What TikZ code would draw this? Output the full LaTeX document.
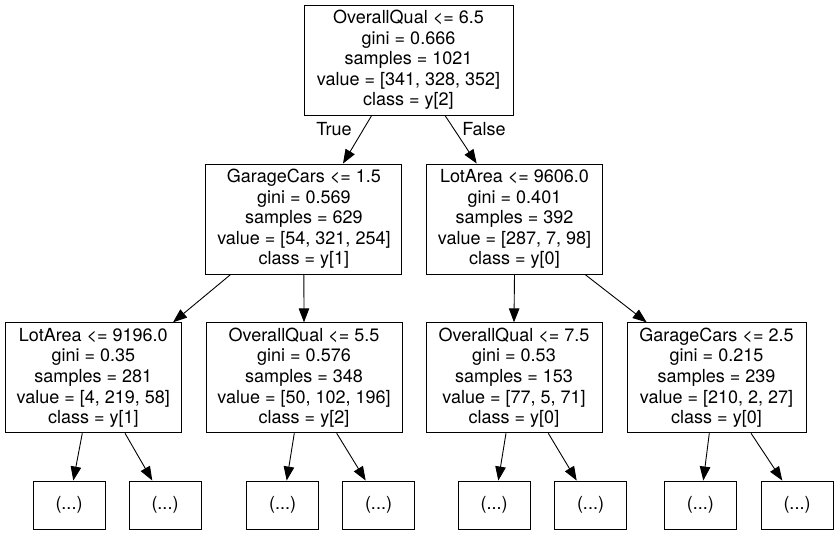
\documentclass[tikz,border=0pt]{standalone}
\usepackage{fontspec}
\setmainfont{TeX Gyre Heros}
\usetikzlibrary{arrows.meta}
\begin{document}
\begin{tikzpicture}[x=1pt,y=-1pt,
  box/.style={draw,line width=0.9pt,rectangle,inner sep=0pt,align=center,
    font=\fontsize{18}{20.6}\selectfont,minimum height=110pt},
  leaf/.style={box,minimum width=72pt,minimum height=48pt},
  edge/.style={line width=0.9pt,-{Triangle[length=14pt,width=10.5pt]}},
  lbl/.style={font=\fontsize{18}{20.6}\selectfont,inner sep=0pt}]
\useasboundingbox (0,0) rectangle (839,535);
% internal nodes
\node[box,minimum width=209pt] (root) at (408.5,60)
  {OverallQual <= 6.5\\gini = 0.666\\samples = 1021\\value = [341, 328, 352]\\class = y[2]};
\node[box,minimum width=196pt] (L) at (303.9,219)
  {GarageCars <= 1.5\\gini = 0.569\\samples = 629\\value = [54, 321, 254]\\class = y[1]};
\node[box,minimum width=175.6pt] (R) at (514.5,219)
  {LotArea <= 9606.0\\gini = 0.401\\samples = 392\\value = [287, 7, 98]\\class = y[0]};
\node[box,minimum width=176.7pt] (LL) at (93.3,377.8)
  {LotArea <= 9196.0\\gini = 0.35\\samples = 281\\value = [4, 219, 58]\\class = y[1]};
\node[box,minimum width=196pt] (LR) at (304,377.8)
  {OverallQual <= 5.5\\gini = 0.576\\samples = 348\\value = [50, 102, 196]\\class = y[2]};
\node[box,minimum width=176pt] (RL) at (514,377.8)
  {OverallQual <= 7.5\\gini = 0.53\\samples = 153\\value = [77, 5, 71]\\class = y[0]};
\node[box,minimum width=179pt] (RR) at (716.5,377.8)
  {GarageCars <= 2.5\\gini = 0.215\\samples = 239\\value = [210, 2, 27]\\class = y[0]};
% leaves
\node[leaf] (a) at (69,505) {(...)};
\node[leaf] (b) at (165,505) {(...)};
\node[leaf] (c) at (282.7,505) {(...)};
\node[leaf] (d) at (378.5,505) {(...)};
\node[leaf] (e) at (494.2,505) {(...)};
\node[leaf] (f) at (590.5,505) {(...)};
\node[leaf] (g) at (700.3,505) {(...)};
\node[leaf] (h) at (797,505) {(...)};
% edge labels
\node[lbl] (tlbl) at (334,129) {True};
\node[lbl] (flbl) at (484,129) {False};
% edges
\draw[edge] ([xshift=-36.8pt]root.south) -- ([xshift=39.1pt]L.north);
\draw[edge] ([xshift=36.5pt]root.south) -- ([xshift=-37.8pt]R.north);
\draw[edge] ([xshift=-73.2pt]L.south) -- ([xshift=79.7pt]LL.north);
\draw[edge] (L.south) -- (LR.north);
\draw[edge] (R.south) -- (RL.north);
\draw[edge] ([xshift=70.5pt]R.south) -- ([xshift=-69.8pt]RR.north);
\draw[edge] ([xshift=-11pt]LL.south) -- ([xshift=4.3pt]a.north);
\draw[edge] ([xshift=31.7pt]LL.south) -- ([xshift=-12.7pt]b.north);
\draw[edge] ([xshift=-9.7pt]LR.south) -- ([xshift=4pt]c.north);
\draw[edge] ([xshift=32.7pt]LR.south) -- ([xshift=-12.8pt]d.north);
\draw[edge] ([xshift=-8pt]RL.south) -- ([xshift=4.1pt]e.north);
\draw[edge] ([xshift=34.3pt]RL.south) -- ([xshift=-13.8pt]f.north);
\draw[edge] ([xshift=-7.2pt]RR.south) -- ([xshift=3pt]g.north);
\draw[edge] ([xshift=34.5pt]RR.south) -- ([xshift=-14.7pt]h.north);
\end{tikzpicture}
\end{document}
